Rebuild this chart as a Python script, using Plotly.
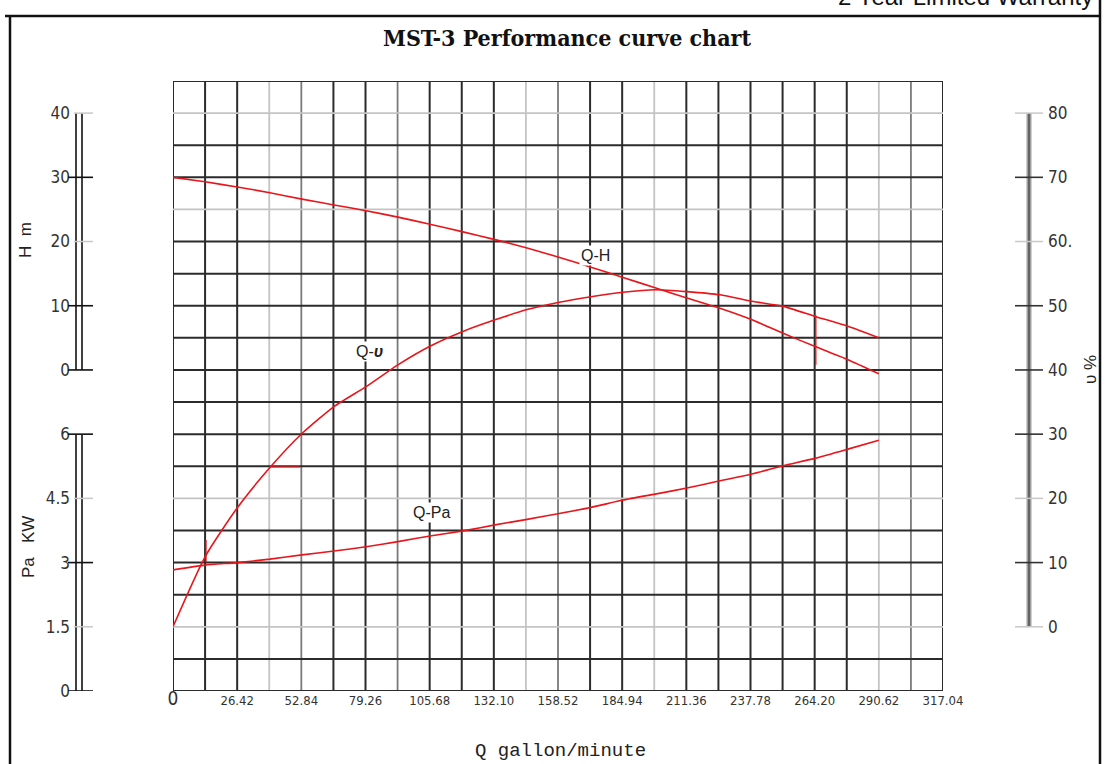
import plotly.graph_objects as go

W, HP = 1107, 764

# ---------------- data ----------------
q_tickvals = [0, 26.42, 52.84, 79.26, 105.68, 132.10, 158.52, 184.94, 211.36, 237.78, 264.20, 290.62, 317.04]
q_ticktext = ["<span style='font-size:19px'>0</span>", "26.42", "52.84", "79.26", "105.68", "132.10",
              "158.52", "184.94", "211.36", "237.78", "264.20", "290.62", "317.04"]

h_ticks = [0, 10, 20, 30, 40]
h_major = [0, 10, 30]
pa_ticks = [0, 1.5, 3, 4.5, 6]
pa_ticktext = ["0", "1.5", "3", "4.5", "6"]
pa_major = [0, 3, 6]
eff_ticks = [0, 10, 20, 30, 40, 50, 60, 70, 80]
eff_ticktext = ["0", "10", "20", "30", "40", "50", "60.", "70", "80"]
eff_major = [10, 30, 40, 50, 70]

flow = [0, 13.2, 26.4, 39.9, 53.1, 66.3, 79.5, 92.6, 105.8, 119.4, 132.6, 145.8,
        158.5, 172.1, 185.3, 198.5, 211.6, 225.2, 238.4, 251.2, 264.7, 277.9, 290.62]
head = [30.0, 29.3, 28.5, 27.6, 26.6, 25.7, 24.8, 23.8, 22.7, 21.5, 20.3, 19.0,
        17.6, 16.0, 14.4, 12.8, 11.2, 9.6, 7.8, 5.7, 3.6, 1.6, -0.6]
eff = [0, 10.9, 18.5, 24.8, 30.1, 34.3, 37.4, 40.8, 43.7, 46.0, 47.8, 49.4,
       50.5, 51.4, 52.1, 52.5, 52.2, 51.7, 50.7, 49.9, 48.3, 46.8, 45.0]
power = [2.83, 2.94, 3.00, 3.08, 3.18, 3.27, 3.37, 3.49, 3.62, 3.74, 3.88, 4.01,
         4.14, 4.29, 4.46, 4.60, 4.74, 4.91, 5.07, 5.26, 5.44, 5.65, 5.86]

# grid: column step (gallon/min) and row step (m); line styles d=dark, m=medium, l=light
grid_col_step = 13.21
grid_cols = 24
grid_row_step = 5
grid_rows = 19
col_styles = list("dddlmddmdddlmddldddddd" + "lmd")
row_styles = list("ddldddlddddddddlddld")

# ---------------- layout geometry ----------------
X0, X1 = 173, 943          # plot area px
Y_TOP, Y_BOT = 81, 691
dom_x = [X0 / W, X1 / W]
dom_y = [(HP - Y_BOT) / HP, (HP - Y_TOP) / HP]

H_RANGE = [-50, 45]
PA_RANGE = [0, 14.25]
EFF_RANGE = [-10, 85]

def px(xp):
    return xp / W

def py(yp):
    return (HP - yp) / HP

RED = "#e8151b"
fig = go.Figure()

fig.add_trace(go.Scatter(x=flow, y=head, mode="lines", yaxis="y",
                         line=dict(color=RED, width=1.6, shape="spline", smoothing=0.6),
                         name="Q-H", hoverinfo="skip"))
fig.add_trace(go.Scatter(x=flow, y=power, mode="lines", yaxis="y2",
                         line=dict(color=RED, width=1.6, shape="spline", smoothing=0.6),
                         name="Q-Pa", hoverinfo="skip"))
fig.add_trace(go.Scatter(x=flow, y=eff, mode="lines", yaxis="y3",
                         line=dict(color=RED, width=1.6, shape="spline", smoothing=0.6),
                         name="Q-η", hoverinfo="skip"))

# small red marks visible on the original curves
mark_eff_q = [[13.6, 13.6], [39.9, 52.3]]
mark_eff_v = [[10.1, 13.5], [24.9, 24.9]]
mark_h_q = [[264.7, 264.7]]
mark_h_v = [[0.8, 8.5]]
for mq, mv in zip(mark_eff_q, mark_eff_v):
    fig.add_trace(go.Scatter(x=mq, y=mv, mode="lines", yaxis="y3",
                             line=dict(color=RED, width=1.2), hoverinfo="skip"))
for mq, mv in zip(mark_h_q, mark_h_v):
    fig.add_trace(go.Scatter(x=mq, y=mv, mode="lines", yaxis="y",
                             line=dict(color=RED, width=1.2), hoverinfo="skip"))

shapes = []
style_map = {"d": ("#2b2b2b", 2.0), "m": ("#7a7a7a", 1.8), "l": ("#c4c4c4", 1.8)}
# vertical grid lines
for k in range(grid_cols + 1):
    c, w = style_map[col_styles[k]]
    xv = k * grid_col_step
    shapes.append(dict(type="line", xref="x", yref="y", x0=xv, x1=xv,
                       y0=H_RANGE[0], y1=H_RANGE[1], line=dict(color=c, width=w), layer="below"))
# horizontal grid lines
for j in range(grid_rows + 1):
    c, w = style_map[row_styles[j]]
    yv = H_RANGE[0] + j * grid_row_step
    shapes.append(dict(type="line", xref="x", yref="y", x0=0, x1=grid_cols * grid_col_step,
                       y0=yv, y1=yv, line=dict(color=c, width=w), layer="below"))

# left double axes (H and Pa)
for yref, ticks, major in (("y", h_ticks, h_major), ("y2", pa_ticks, pa_major)):
    for xl in (76, 82):
        shapes.append(dict(type="line", xref="paper", yref=yref, x0=px(xl), x1=px(xl),
                           y0=ticks[0], y1=ticks[-1], line=dict(color="#111", width=1.6)))
    for t in ticks:
        if t in major:
            shapes.append(dict(type="line", xref="paper", yref=yref, x0=px(68), x1=px(93),
                               y0=t, y1=t, line=dict(color="#111", width=1.6)))
        else:
            shapes.append(dict(type="line", xref="paper", yref=yref, x0=px(74), x1=px(93),
                               y0=t, y1=t, line=dict(color="#c8c8c8", width=1.5)))

# right efficiency axis
shapes.append(dict(type="line", xref="paper", yref="y3", x0=px(1029), x1=px(1029),
                   y0=eff_ticks[0], y1=eff_ticks[-1], line=dict(color="#a0a0a0", width=5)))
shapes.append(dict(type="line", xref="paper", yref="y3", x0=px(1029), x1=px(1029),
                   y0=eff_ticks[0], y1=eff_ticks[-1], line=dict(color="#555", width=1.6)))
for t in eff_ticks:
    if t in eff_major:
        shapes.append(dict(type="line", xref="paper", yref="y3", x0=px(1015), x1=px(1043),
                           y0=t, y1=t, line=dict(color="#333", width=1.6)))
    else:
        shapes.append(dict(type="line", xref="paper", yref="y3", x0=px(1015), x1=px(1043),
                           y0=t, y1=t, line=dict(color="#c8c8c8", width=1.5)))

# outer frame
shapes.append(dict(type="line", xref="paper", yref="paper", x0=px(10), x1=px(10),
                   y0=py(16), y1=py(770), line=dict(color="#111", width=2.5)))
shapes.append(dict(type="line", xref="paper", yref="paper", x0=px(5), x1=px(1100),
                   y0=py(16), y1=py(16), line=dict(color="#111", width=2.5)))
shapes.append(dict(type="line", xref="paper", yref="paper", x0=px(1100), x1=px(1100),
                   y0=py(-2), y1=py(770), line=dict(color="#111", width=2.5)))

NARROW = "Liberation Sans Narrow, Arial Narrow, DejaVu Sans Condensed, Liberation Sans, sans-serif"
SANS = "Liberation Sans, Arial, sans-serif"

annotations = [
    dict(text="<b>MST-3 Performance curve chart</b>", xref="paper", yref="paper",
         x=px(567), y=py(37), showarrow=False, xanchor="center", yanchor="middle",
         font=dict(family="DejaVu Serif Condensed, Liberation Serif, serif", size=23, color="#111")),
    dict(text="2 Year Limited Warranty", xref="paper", yref="paper",
         x=px(1095), y=1, yshift=4, showarrow=False, xanchor="right", yanchor="middle",
         font=dict(family=SANS, size=24, color="#111")),
    dict(text="Q gallon/minute", xref="paper", yref="paper", x=px(560), y=py(751),
         showarrow=False, xanchor="center", yanchor="middle",
         font=dict(family="Liberation Mono, DejaVu Sans Mono, monospace", size=19, color="#222")),
    dict(text="H  m", xref="paper", yref="paper", x=px(25), y=py(240), showarrow=False,
         textangle=-90, xanchor="center", yanchor="middle",
         font=dict(family=SANS, size=17, color="#222")),
    dict(text="Pa   KW", xref="paper", yref="paper", x=px(28), y=py(547), showarrow=False,
         textangle=-90, xanchor="center", yanchor="middle",
         font=dict(family=SANS, size=17, color="#222")),
    dict(text="υ %", xref="paper", yref="paper", x=px(1090), y=py(370), showarrow=False,
         textangle=-90, xanchor="center", yanchor="middle",
         font=dict(family=SANS, size=17, color="#222")),
    dict(text="Q-H", xref="x", yref="y", x=173.8, y=17.9, showarrow=False,
         bgcolor="white", font=dict(family=SANS, size=16, color="#222")),
    dict(text="Q-<b><i>υ</i></b>", xref="x", yref="y3", x=81.1, y=42.8, showarrow=False,
         bgcolor="white", font=dict(family=SANS, size=16, color="#222")),
    dict(text="Q-Pa", xref="x", yref="y2", x=106.6, y=4.16, showarrow=False,
         bgcolor="white", font=dict(family=SANS, size=16, color="#222")),
]

tickfont_l = dict(family=NARROW, size=17, color="#333")
fig.update_layout(
    width=W, height=HP, autosize=False,
    margin=dict(l=0, r=0, t=0, b=0, pad=0, autoexpand=False),
    paper_bgcolor="white", plot_bgcolor="white",
    showlegend=False,
    shapes=shapes, annotations=annotations,
    xaxis=dict(domain=dom_x, range=[0, grid_cols * grid_col_step], anchor="y",
               tickvals=q_tickvals, ticktext=q_ticktext, showgrid=False, zeroline=False,
               showline=False, ticks="", tickfont=dict(family=NARROW, size=13, color="#333"),
               ticklabelstandoff=0, automargin=False),
    yaxis=dict(domain=dom_y, range=H_RANGE, anchor="free", position=px(76), side="left",
               tickvals=h_ticks, showgrid=False, zeroline=False, showline=False, ticks="",
               tickfont=tickfont_l, ticklabelstandoff=6, automargin=False),
    yaxis2=dict(domain=dom_y, range=PA_RANGE, overlaying="y", anchor="free", position=px(76),
                side="left", tickvals=pa_ticks, ticktext=pa_ticktext, showgrid=False,
                zeroline=False, showline=False, ticks="", tickfont=tickfont_l,
                ticklabelstandoff=6, automargin=False),
    yaxis3=dict(domain=dom_y, range=EFF_RANGE, overlaying="y", anchor="free", position=px(1043),
                side="right", tickvals=eff_ticks, ticktext=eff_ticktext, showgrid=False,
                zeroline=False, showline=False, ticks="", tickfont=tickfont_l,
                ticklabelstandoff=4, automargin=False),
)

fig.write_html("out.html", config={"displayModeBar": False},
               post_script="document.body.style.margin='0';")
